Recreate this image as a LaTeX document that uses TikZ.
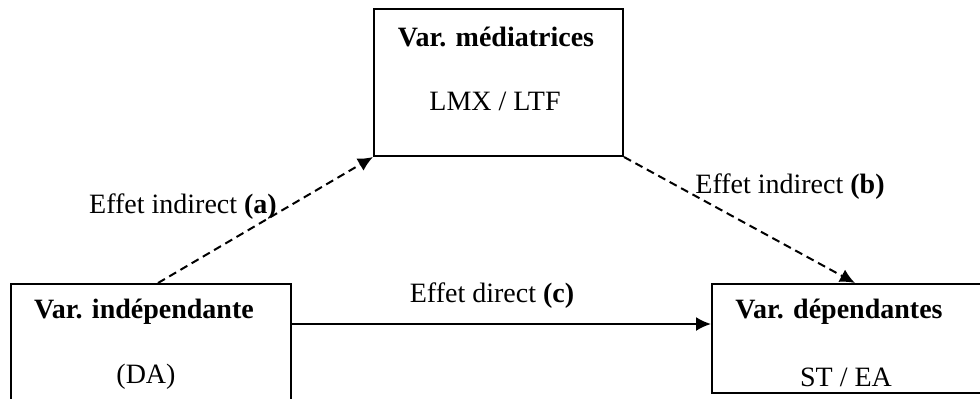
\documentclass[tikz,border=0pt]{standalone}
\usepackage{fontspec}
\setmainfont{Liberation Serif}
\usetikzlibrary{shapes,arrows.meta}
\tikzstyle{line} = [draw, -{Latex[length=7.5pt,width=7pt]}, line width=1pt]
\tikzstyle{dline} = [line, dash pattern=on 4pt off 2.5pt]
\tikzstyle{var_box} = [rectangle, draw, line width=1pt, minimum width=140pt, inner sep=0pt]
\tikzstyle{lbl} = [anchor=base, inner sep=0pt]

\begin{document}
\begin{tikzpicture}[x=0.5pt, y=-0.5pt, font=\fontsize{14}{17}\selectfont]
			\clip (0,0) rectangle (980,398);
			% mediator box
			\node [var_box, minimum width=124.5pt, minimum height=73.5pt] (med) at (498.5,82.5) {};
			\node [lbl] (med_t) at (496,46) {\textbf{Var. médiatrices}};
			\node [lbl] (med_s) at (495,110) {LMX / LTF};
			
			% independent / dependent boxes
			\node [var_box, minimum height=70pt] (indep) at (151,354) {};
			\node [lbl] (indep_t) at (144,318) {\textbf{Var. indépendante}};
			\node [lbl] (indep_s) at (146,383) {(DA)};
			
			\node [var_box, minimum height=54.5pt] (dep) at (852,338.5) {};
			\node [lbl] (dep_t) at (839,318) {\textbf{Var. dépendantes}};
			\node [lbl] (dep_s) at (846,386) {ST / EA};
			
			\draw [dline] ([xshift=3.5pt]indep.north) -- (med.south west);
			\node [lbl] (eff_a) at (183,213) {Effet indirect \textbf{(a)}};
			\draw [dline] (med.south east) -- ([xshift=1.5pt]dep.north);
			\node [lbl] (eff_b) at (790,193) {Effet indirect \textbf{(b)}};
			\draw [line] ([yshift=15pt]indep.east) -- ([yshift=7.25pt]dep.west);
			\node [lbl] (eff_c) at (492,302) {Effet direct \textbf{(c)}};
		\end{tikzpicture}
\end{document}
